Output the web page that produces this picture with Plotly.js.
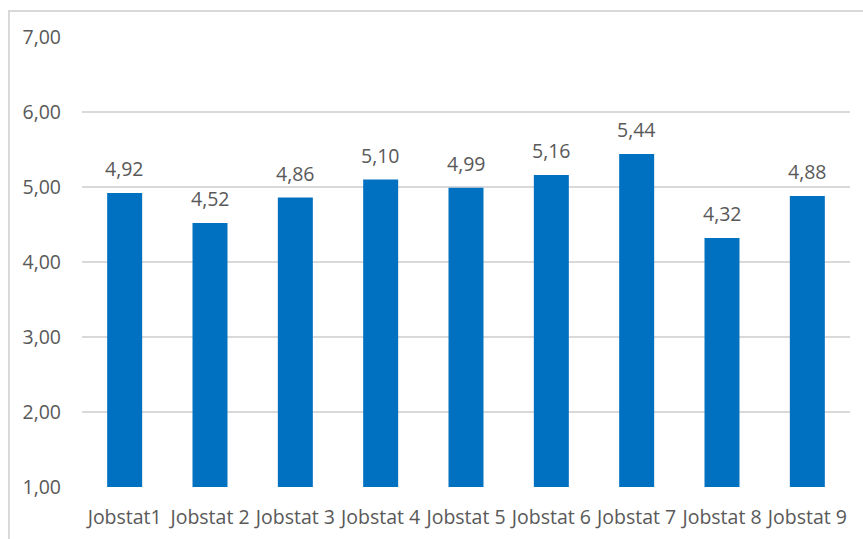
<!DOCTYPE html>
<html>
<head>
<meta charset="utf-8">
<script src="https://cdn.plot.ly/plotly-3.0.1.min.js"></script>
<style>
  html, body { margin: 0; padding: 0; background: #ffffff; }
  #wrap { position: relative; width: 863px; height: 539px; overflow: hidden; }
  #chart { position: absolute; left: 0; top: 0; width: 863px; height: 539px; }
  #frame { position: absolute; left: 8px; top: 10px; width: 900px; height: 600px;
           border-top: 2px solid #d9d9d9; border-left: 2px solid #d9d9d9; pointer-events: none; }
</style>
</head>
<body>
<div id="wrap">
  <div id="chart"></div>
  <div id="frame"></div>
</div>
<script>
// Mean score per job statistic
const categories = ['Jobstat1', 'Jobstat 2', 'Jobstat 3', 'Jobstat 4', 'Jobstat 5',
                    'Jobstat 6', 'Jobstat 7', 'Jobstat 8', 'Jobstat 9'];
const values = [4.92, 4.52, 4.86, 5.10, 4.99, 5.16, 5.44, 4.32, 4.88];
const yTicks = [1, 2, 3, 4, 5, 6, 7];
const baseline = 1;

const textColor = '#595959';
const fontFamily = '"Open Sans", "Liberation Sans", sans-serif';

// Values printed with a decimal comma
const fmt = v => v.toFixed(2).replace('.', ',');

// Bars rise from the 1,00 baseline up to each value
const trace = {
  type: 'bar',
  x: categories,
  y: values.map(v => v - baseline),
  base: baseline,
  marker: { color: '#0070C0' },
  hoverinfo: 'skip'
};

const annotations = categories.map((c, i) => ({
  x: c,
  y: values[i],
  text: fmt(values[i]),
  showarrow: false,
  xanchor: 'center',
  yanchor: 'bottom',
  yshift: 9,
  font: { family: fontFamily, size: 19.5, color: textColor }
}));

const layout = {
  width: 863,
  height: 539,
  margin: { l: 82, r: 13, t: 37, b: 52, pad: 0 },
  paper_bgcolor: '#ffffff',
  plot_bgcolor: '#ffffff',
  showlegend: false,
  bargap: 0.59,
  separators: ',.',
  font: { family: fontFamily, size: 19, color: textColor },
  xaxis: {
    type: 'category',
    showgrid: false,
    showline: false,
    zeroline: false,
    ticks: '',
    ticklabelstandoff: 16,
    tickfont: { family: fontFamily, size: 19.5, color: textColor },
    fixedrange: true
  },
  yaxis: {
    range: [1, 7],
    tickvals: yTicks,
    tickformat: '.2f',
    showgrid: true,
    gridcolor: '#d9d9d9',
    gridwidth: 1.5,
    showline: false,
    zeroline: false,
    ticks: '',
    ticklabelstandoff: 20,
    tickfont: { family: fontFamily, size: 19.5, color: textColor },
    fixedrange: true
  },
  annotations: annotations
};

Plotly.newPlot('chart', [trace], layout, { displayModeBar: false, staticPlot: true });
</script>
</body>
</html>
